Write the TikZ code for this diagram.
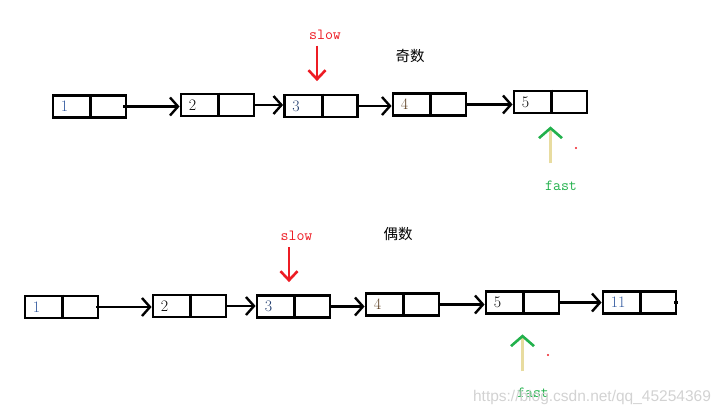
\documentclass[tikz,border=0pt]{standalone}
\usepackage{fontspec}
\newfontfamily\cjk{Noto Sans CJK SC}
\newfontfamily\marque{Liberation Sans}
\usetikzlibrary{arrows.meta}
\definecolor{rouge}{RGB}{237,28,36}
\definecolor{vert}{RGB}{34,177,76}
\definecolor{sable}{RGB}{232,220,160}
\definecolor{bleu}{RGB}{50,90,160}
\definecolor{brun}{RGB}{90,60,30}
\tikzset {maillon/.style={draw,line width=2.8pt,minimum width=73pt,minimum height=22pt,inner sep=0pt},
          chiffre/.style={font=\fontsize{16}{18}\selectfont,inner sep=0pt},
          lien/.style={line width=2.4pt,-{Straight Barb[length=8pt,width=18pt,line width=2.4pt]}},
          lente/.style={draw=rouge,line width=2.6pt,-{Straight Barb[length=9pt,width=17pt,line width=2.6pt]}},
          rapide/.style={draw=sable,line width=2.6pt,-{Straight Barb[color=vert,length=10pt,width=23pt,line width=2.6pt]}},
          pointeur/.style={font=\ttfamily\fontsize{15.5}{17}\selectfont,inner sep=0pt},
          titre/.style={font=\cjk\fontsize{14.5}{16}\selectfont,inner sep=0pt}}
\newcommand{\maillon}[5]
{\node[maillon] (#1) at (#2,#3) {};
 \draw[line width=2.8pt] ([xshift=39pt]#1.north west) -- ([xshift=39pt]#1.south west);
 \node[chiffre,text=#5,anchor=west] (#1t) at ([xshift=9pt]#1.west) {#4};}

\begin{document}
\begin{tikzpicture}[x=1pt,y=-1pt]
  \useasboundingbox (0,0) rectangle (722,415);
  \maillon{h1}{89.5}{106.5}{1}{bleu}
  \maillon{h2}{217.5}{105}{2}{black}
  \maillon{h3}{321}{106}{3}{bleu!70!black}
  \maillon{h4}{429.5}{104.5}{4}{brun}
  \maillon{h5}{550.5}{102}{5}{black}
  \draw[lien] ([xshift=-4pt]h1.east) -- (h1.east -| h2.west);
  \draw[lien] (h2.east) -- (h2.east -| h3.west);
  \draw[lien] (h3.east) -- (h3.east -| h4.west);
  \draw[lien] (h4.east) -- (h4.east -| h5.west);
  \node[pointeur,text=rouge] (s1) at ([xshift=4pt,yshift=59pt]h3.north) {slow};
  \draw[lente] ([xshift=-4pt,yshift=48pt]h3.north) -- ([xshift=-4pt,yshift=12.5pt]h3.north);
  \node[titre] (j1) at (410,56) {奇数};
  \draw[rapide] ([yshift=-49pt]h5.south) -- ([yshift=-12pt]h5.south);
  \node[pointeur,text=vert] (f1) at ([xshift=10.5pt,yshift=-71pt]h5.south) {fast};
  \fill[rouge] (576,148) circle (1.2);
  \maillon{b1}{61.5}{307}{1}{bleu}
  \maillon{b2}{189.5}{306}{2}{black}
  \maillon{b3}{293.5}{306.5}{3}{bleu!70!black}
  \maillon{b4}{402.5}{304.5}{4}{brun}
  \maillon{b5}{522.5}{302.5}{5}{black}
  \maillon{b6}{639.5}{302.5}{11}{bleu}
  \draw[lien] ([xshift=-3pt]b1.east) -- (b1.east -| b2.west);
  \draw[lien] (b2.east) -- (b2.east -| b3.west);
  \draw[lien] (b3.east) -- (b3.east -| b4.west);
  \draw[lien] (b4.east) -- (b4.east -| b5.west);
  \draw[lien] (b5.east) -- (b5.east -| b6.west);
  \draw[line width=2.4pt] ([xshift=-3pt]b6.east) -- ([xshift=1pt]b6.east);
  \node[pointeur,text=rouge] (s2) at ([xshift=3pt,yshift=58pt]b3.north) {slow};
  \draw[lente] ([xshift=-4.5pt,yshift=47pt]b3.north) -- ([xshift=-4.5pt,yshift=12pt]b3.north);
  \node[titre] (j2) at (398,234) {偶数};
  \draw[rapide] ([yshift=-56.5pt]b5.south) -- ([yshift=-19.5pt]b5.south);
  \node[pointeur,text=vert] (f2) at ([xshift=10.5pt,yshift=-77.5pt]b5.south) {fast};
  \fill[rouge] (548,355) circle (1.2);
  \node[font=\marque\fontsize{15.5}{17}\selectfont,text=gray!35,inner sep=0pt] (wm) at (592,397) {https://blog.csdn.net/qq\_45254369};
\end{tikzpicture}
\end{document}
